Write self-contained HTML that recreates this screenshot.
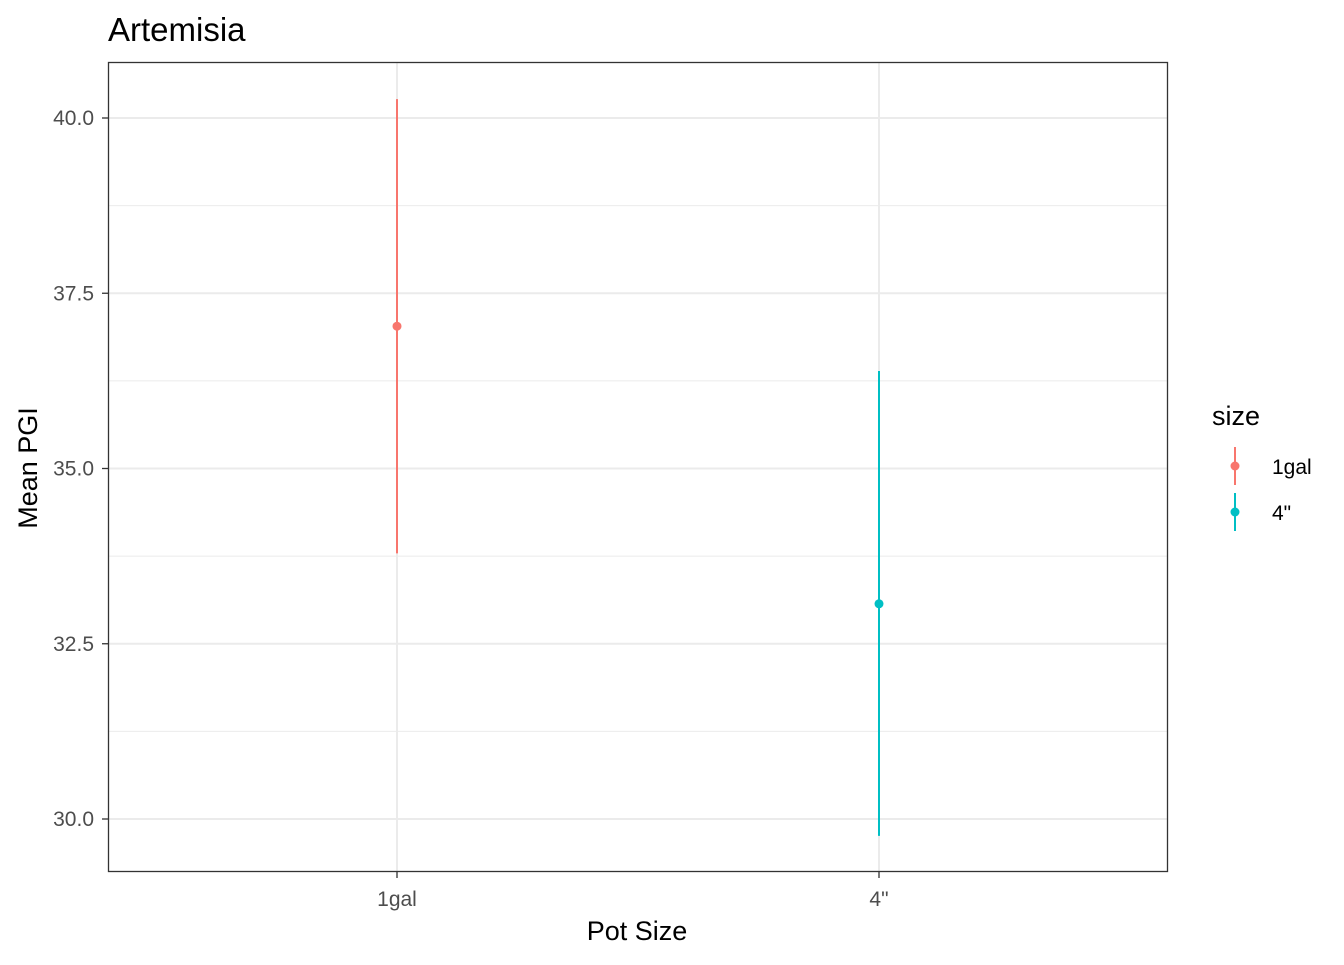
<!DOCTYPE html>
<html><head><meta charset="utf-8"><style>
body{margin:0;background:#fff;}
text{font-family:"Liberation Sans",Arial,sans-serif;}
</style></head><body>
<svg id="chart" width="1344" height="960" xmlns="http://www.w3.org/2000/svg">
<text x="108" y="41" font-size="33" fill="#000">Artemisia</text>
<g id="grid"></g>
<g id="marks"></g>
<rect x="108.5" y="62.5" width="1059" height="809" fill="none" stroke="#333" stroke-width="1.3"/>
<g id="axes"></g>
<text x="637" y="940" font-size="27" text-anchor="middle">Pot Size</text>
<text transform="translate(37,468) rotate(-90)" font-size="27" text-anchor="middle">Mean PGI</text>
<g>
<text x="1212" y="425" font-size="27">size</text>
<g id="legend"></g>
</g>
</svg>
<script>
const categories=["1gal","4\""];
const means=[37.03,33.07];
const lows=[33.79,29.76];
const highs=[40.27,36.39];
const colors=["#F8766D","#00BFC4"];
const yTicks=[30.0,32.5,35.0,37.5,40.0];
const yMinor=[31.25,33.75,36.25,38.75];
const NS="http://www.w3.org/2000/svg";
const y=v=>118-(v-40)*70.1;
const x=i=>397+i*482;
function mk(p,t,a){const e=document.createElementNS(NS,t);for(const k in a)e.setAttribute(k,a[k]);p.appendChild(e);return e;}
const grid=document.getElementById('grid'),axes=document.getElementById('axes'),marks=document.getElementById('marks'),leg=document.getElementById('legend');
yMinor.forEach(v=>{const l=mk(grid,'line',{x1:109,x2:1167,y1:y(v),y2:y(v),stroke:'#ebebeb','stroke-width':1});

});
yTicks.forEach(v=>{const l=mk(grid,'line',{x1:109,x2:1167,y1:y(v),y2:y(v),stroke:'#ebebeb','stroke-width':2});


const t=mk(axes,'line',{x1:102,x2:108,y1:y(v),y2:y(v),stroke:'#333','stroke-width':1.3});


const tx=mk(axes,'text',{x:94,y:y(v)+7,'font-size':21,'text-anchor':'end',fill:'#4d4d4d'});tx.textContent=v.toFixed(1);

});
categories.forEach((c,i)=>{const l=mk(grid,'line',{x1:x(i),x2:x(i),y1:63,y2:871,stroke:'#ebebeb','stroke-width':2});


const t=mk(axes,'line',{x1:x(i),x2:x(i),y1:872,y2:878,stroke:'#333','stroke-width':1.3});


const tx=mk(axes,'text',{x:x(i),y:906,'font-size':21,'text-anchor':'middle',fill:'#4d4d4d'});tx.textContent=c;


const e=mk(marks,'line',{x1:x(i),x2:x(i),y1:y(lows[i]),y2:y(highs[i]),stroke:colors[i],'stroke-width':2});


const p=mk(marks,'circle',{cx:x(i),cy:y(means[i]),r:4.5,fill:colors[i]});


const ly=466+i*46;
const ll=mk(leg,'line',{x1:1235,x2:1235,y1:ly-19,y2:ly+19,stroke:colors[i],'stroke-width':2});


const lc=mk(leg,'circle',{cx:1235,cy:ly,r:4.5,fill:colors[i]});


const lt=mk(leg,'text',{x:1272,y:ly+8,'font-size':21});lt.textContent=c;

});
</script>
</body></html>
